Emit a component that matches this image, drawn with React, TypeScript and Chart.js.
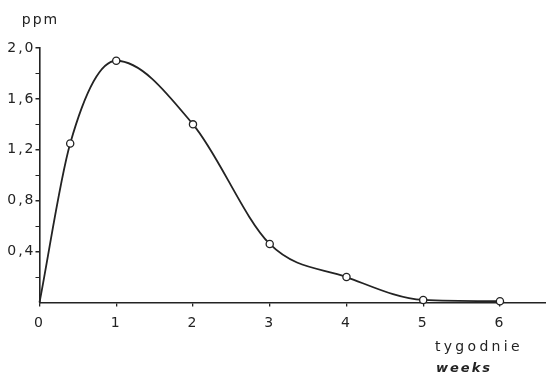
import React, { useEffect, useRef } from 'react';
import { Chart, registerables } from 'chart.js';

Chart.register(...registerables);

// Data
const weeks = [0, 0.4, 1, 2, 3, 4, 5, 6];
const ppmValues = [0, 1.25, 1.9, 1.4, 0.46, 0.2, 0.02, 0.01];
const measured = [false, true, true, true, true, true, true, true];
const xTickValues = [0, 1, 2, 3, 4, 5, 6];
const yMajorStep = 0.4;
const yUnitLabel = 'ppm';
const xTitlePolish = 'tygodnie';
const xTitleEnglish = 'weeks';

const INK = '#232323';
const FONT = '"DejaVu Sans", sans-serif';

const textPlugin = {
  id: 'scanLabels',
  beforeDraw(chart: any) {
    chart.ctx.letterSpacing = '2px';
  },
  afterDraw(chart: any) {
    const ctx = chart.ctx as CanvasRenderingContext2D;
    const a = chart.chartArea;
    ctx.save();
    ctx.fillStyle = INK;
    ctx.textBaseline = 'alphabetic';
    ctx.font = `14px ${FONT}`;
    (ctx as any).letterSpacing = '2px';
    ctx.textAlign = 'center';
    ctx.fillText(yUnitLabel, a.left + 1, 24);
    ctx.textAlign = 'left';
    (ctx as any).letterSpacing = '3.3px';
    ctx.fillText(xTitlePolish, 435, 351);
    ctx.font = `italic bold 13px ${FONT}`;
    (ctx as any).letterSpacing = '2px';
    ctx.fillText(xTitleEnglish, 436, 372);
    ctx.restore();
    (ctx as any).letterSpacing = '0px';
  },
};

export default function App() {
  const ref = useRef<HTMLCanvasElement | null>(null);

  useEffect(() => {
    if (!ref.current) return;
    const chart = new Chart(ref.current, {
      type: 'line',
      data: {
        datasets: [
          {
            data: weeks.map((w, i) => ({ x: w, y: ppmValues[i] })),
            borderColor: INK,
            borderWidth: 1.8,
            cubicInterpolationMode: 'monotone',
            fill: false,
            clip: false,
            pointRadius: (c: any) => (measured[c.dataIndex] ? 3.6 : 0),
            pointBackgroundColor: '#ffffff',
            pointBorderColor: INK,
            pointBorderWidth: 1.3,
          },
        ],
      },
      options: {
        animation: false,
        responsive: false,
        devicePixelRatio: 1,
        layout: { autoPadding: false, padding: { top: 48, right: 0, left: 0, bottom: 0 } },
        plugins: { legend: { display: false }, tooltip: { enabled: false } },
        scales: {
          x: {
            type: 'linear',
            min: 0,
            max: 6.6,
            afterBuildTicks: (s: any) => {
              s.ticks = xTickValues.map((v) => ({ value: v }));
            },
            afterFit: (s: any) => {
              s.height = 70.5;
              s.paddingRight = 0;
              s.paddingLeft = 0;
            },
            ticks: {
              autoSkip: false,
              maxRotation: 0,
              padding: 8,
              color: INK,
              font: { family: FONT, size: 14 },
              callback: (v: any) => String(v),
            },
            grid: { drawOnChartArea: false, tickLength: 4, color: INK, lineWidth: 1.3 },
            border: { color: INK, width: 1.6 },
          },
          y: {
            type: 'linear',
            min: 0,
            max: 2.0,
            afterFit: (s: any) => {
              s.width = 39.5;
            },
            ticks: {
              stepSize: 0.2,
              autoSkip: false,
              padding: 0,
              color: INK,
              font: { family: FONT, size: 14 },
              callback: (v: any) => {
                const tenths = Math.round(Number(v) * 10);
                if (tenths === 0) return '';
                if (tenths % Math.round(yMajorStep * 10) !== 0) return '';
                return (tenths / 10).toFixed(1).replace('.', ',');
              },
            },
            grid: {
              drawOnChartArea: false,
              tickLength: 4,
              color: (c: any) => (c.tick && Math.round(c.tick.value * 10) === 0 ? 'rgba(0,0,0,0)' : INK),
              lineWidth: (c: any) =>
                c.tick && Math.round(c.tick.value * 10) % 4 === 0 ? 1.5 : 1,
            },
            border: { color: INK, width: 1.6 },
          },
        },
      },
      plugins: [textPlugin],
    } as any);
    return () => chart.destroy();
  }, []);

  return (
    <div style={{ position: 'fixed', left: 0, top: 0, width: 546, height: 373, background: '#fff' }}>
      <canvas ref={ref} width={546} height={373} style={{ width: 546, height: 373, display: 'block' }} />
    </div>
  );
}
